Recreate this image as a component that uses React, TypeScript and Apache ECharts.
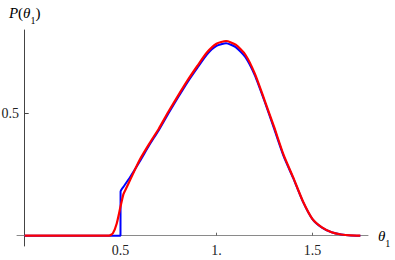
import React, { useEffect, useRef } from "react";
import * as echarts from "echarts";

const blueX = [0, 0.4995, 0.5, 0.52, 0.55, 0.6, 0.65, 0.7, 0.75, 0.8, 0.85, 0.9, 0.95, 1.0, 1.05, 1.1, 1.15, 1.2, 1.25, 1.3, 1.35, 1.4, 1.45, 1.5, 1.55, 1.6, 1.65, 1.7, 1.75];
const blueY = [0, 0, 0.18, 0.205, 0.24, 0.303, 0.37, 0.432, 0.5, 0.565, 0.628, 0.685, 0.74, 0.775, 0.786, 0.77, 0.73, 0.655, 0.55, 0.438, 0.325, 0.235, 0.14, 0.068, 0.033, 0.014, 0.005, 0.001, 0];

const redX = [0, 0.44, 0.46, 0.48, 0.5, 0.515, 0.53, 0.55, 0.6, 0.65, 0.7, 0.75, 0.8, 0.85, 0.9, 0.95, 1.0, 1.05, 1.1, 1.15, 1.2, 1.25, 1.3, 1.35, 1.4, 1.45, 1.5, 1.55, 1.6, 1.65, 1.7, 1.75];
const redY = [0, 0, 0.01, 0.05, 0.12, 0.17, 0.195, 0.228, 0.31, 0.376, 0.438, 0.507, 0.572, 0.635, 0.693, 0.748, 0.784, 0.795, 0.78, 0.74, 0.662, 0.555, 0.445, 0.33, 0.238, 0.142, 0.069, 0.034, 0.014, 0.005, 0.001, 0];

const xTicks = [0.5, 1, 1.5];
const xTickLabels = ["0.5", "1.", "1.5"];
const yTicks = [0.5];
const yTickLabels = ["0.5"];

const FONT = "'Liberation Serif', 'DejaVu Serif', serif";

export default function App() {
  const ref = useRef<HTMLDivElement>(null);
  useEffect(() => {
    if (!ref.current) return;
    const chart = echarts.init(ref.current, undefined, { renderer: "svg" });
    const pairs = (xs: number[], ys: number[]) => xs.map((x, i) => [x, ys[i]]);
    const rich = {
      i: { fontFamily: FONT, fontStyle: "italic", fontSize: 15, color: "#000" },
      n: { fontFamily: FONT, fontSize: 15, color: "#000" },
      s: { fontFamily: FONT, fontSize: 10, color: "#000", verticalAlign: "bottom", padding: [0, 0, -5, 0] },
    };
    chart.setOption({
      animation: false,
      grid: { left: 17, top: 30, width: 351, height: 216, containLabel: false, outerBoundsMode: "none" },
      xAxis: {
        type: "value",
        min: -0.04,
        max: 1.79,
        splitLine: { show: false },
        axisLine: { onZero: true, lineStyle: { color: "#8a8a8a", width: 1 } },
        axisTick: { inside: true, length: 3, customValues: xTicks, lineStyle: { color: "#666" } },
        axisLabel: {
          customValues: xTicks,
          margin: -3,
          fontFamily: FONT,
          fontSize: 14,
          color: "#222",
          formatter: (v: number) => xTickLabels[xTicks.indexOf(v)] ?? "",
        },
        name: "{i|θ}{s|1}",
        nameLocation: "end",
        nameGap: 10,
        nameTextStyle: { rich },
      },
      yAxis: {
        type: "value",
        min: -0.042,
        max: 0.84,
        splitLine: { show: false },
        axisLine: { onZero: true, lineStyle: { color: "#444", width: 1 } },
        axisTick: { inside: true, length: 4, customValues: yTicks, lineStyle: { color: "#444" } },
        axisLabel: {
          customValues: yTicks,
          margin: -2,
          fontFamily: FONT,
          fontSize: 14,
          color: "#222",
          formatter: (v: number) => yTickLabels[yTicks.indexOf(v)] ?? "",
        },
        name: "{i|P}{n|(}{i|θ}{s|1}{n|)}",
        nameLocation: "end",
        nameGap: 10,
        nameTextStyle: { rich, align: "center" },
      },
      series: [
        {
          type: "line",
          data: pairs(blueX, blueY),
          showSymbol: false,
          smooth: 0.2,
          lineStyle: { color: "#0000ff", width: 2 },
          z: 2,
        },
        {
          type: "line",
          data: pairs(redX, redY),
          showSymbol: false,
          smooth: 0.2,
          lineStyle: { color: "#ff0000", width: 2.2 },
          z: 3,
        },
      ],
    });
    return () => chart.dispose();
  }, []);
  return <div ref={ref} style={{ position: "absolute", left: 0, top: 0, width: 395, height: 260 }} />;
}
